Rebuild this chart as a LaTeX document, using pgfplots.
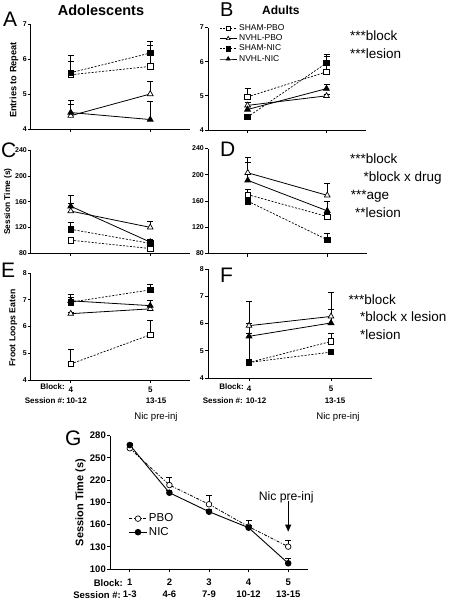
\documentclass[border=0pt]{standalone}
\usepackage{fontspec}
\setmainfont{Liberation Sans}
\usepackage{pgfplots}
\pgfplotsset{compat=1.18}
\usetikzlibrary{arrows.meta}
\newcommand\fs[1]{\fontsize{#1}{#1}\selectfont}
\pgfplotsset{
 gp/.style={
  scale only axis, axis lines=left, axis line style={-, line width=1pt},
  tick align=outside, major tick length=3pt, tick style={black, line width=1pt},
  xmin=3.5, xmax=5.5, xtick={4,5},
  yticklabel style={font=\fs{7}\bfseries, inner sep=1pt},
  xticklabel style={font=\fs{8}\bfseries, inner sep=1pt, yshift=-2.5pt},
  /pgf/number format/assume math mode=true,
  clip=false,
 },
 eb/.style={
  /pgfplots/error bars/y dir=plus, /pgfplots/error bars/y explicit,
  /pgfplots/error bars/error bar style={solid, line width=0.7pt, black},
  /pgfplots/error bars/error mark options={solid, rotate=90, mark size=3pt, line width=0.7pt, black},
 },
 shampbo/.style={eb, black, line width=0.7pt, dash pattern=on 2pt off 1.5pt, mark=square*, mark size=2.7pt, mark options={solid, fill=white, draw=black, line width=0.7pt}},
 shamnic/.style={eb, black, line width=0.7pt, dash pattern=on 2pt off 1.5pt, mark=square*, mark size=2.7pt, mark options={solid, fill=black, draw=black}},
 nvhlpbo/.style={eb, black, line width=0.8pt, solid, mark=triangle*, mark size=3.3pt, mark options={solid, fill=white, draw=black, line width=0.7pt}},
 nvhlnic/.style={eb, black, line width=0.8pt, solid, mark=triangle*, mark size=3.3pt, mark options={solid, fill=black, draw=black}},
}
\begin{document}
\begin{tikzpicture}
\useasboundingbox (0,0) rectangle (450pt,-599pt);

% ---------- Panel A ----------
\begin{axis}[gp, at={(31pt,-129pt)}, anchor=south west, width=159pt, height=105pt,
  ymin=4, ymax=7, ytick={4,5,6,7}, xticklabels={}]
\addplot[shampbo] coordinates {(4,5.55) +- (0,0.38) (5,5.79) +- (0,0.6)};
\addplot[shamnic] coordinates {(4,5.61) +- (0,0.5) (5,6.17) +- (0,0.33)};
\addplot[nvhlpbo] coordinates {(4,4.38) +- (0,0.33) (5,5.0) +- (0,0.37)};
\addplot[nvhlnic] coordinates {(4,4.47) +- (0,0.34) (5,4.27) +- (0,0.51)};
\end{axis}

% ---------- Panel B ----------
\begin{axis}[gp, at={(208pt,-130pt)}, anchor=south west, width=158pt, height=102.5pt,
  ymin=4, ymax=7, ytick={4,5,6,7}, xticklabels={},
  legend style={at={(0.07,1.05)}, anchor=north west, draw=none, fill=none,
    font=\fs{8.5}, row sep=-1.2pt, inner sep=0pt},
  legend cell align=left,
  legend image post style={mark size=2.2pt}]
\addplot[shampbo] coordinates {(4,4.97) +- (0,0.24) (5,5.7) +- (0,0.52)};
\addlegendentry{SHAM-PBO}
\addplot[nvhlpbo] coordinates {(4,4.72) +- (0,0.1) (5,5.0) +- (0,0.05)};
\addlegendentry{NVHL-PBO}
\addplot[shamnic] coordinates {(4,4.38) +- (0,0.05) (5,5.96) +- (0,0.21)};
\addlegendentry{SHAM-NIC}
\addplot[nvhlnic] coordinates {(4,4.6) +- (0,0.1) (5,5.21) +- (0,0.13)};
\addlegendentry{NVHL-NIC}
\end{axis}

% ---------- Panel C ----------
\begin{axis}[gp, at={(31pt,-253pt)}, anchor=south west, width=159pt, height=102.5pt,
  ymin=80, ymax=240, ytick={80,120,160,200,240}, xticklabels={}]
\addplot[shampbo] coordinates {(4,100) +- (0,4) (5,87) +- (0,4)};
\addplot[shamnic] coordinates {(4,117) +- (0,11.5) (5,95) +- (0,7)};
\addplot[nvhlpbo] coordinates {(4,145.4) +- (0,12) (5,120) +- (0,10)};
\addplot[nvhlnic] coordinates {(4,153) +- (0,17) (5,97) +- (0,5)};
\end{axis}

% ---------- Panel D ----------
\begin{axis}[gp, at={(208pt,-253.5pt)}, anchor=south west, width=159pt, height=105pt,
  ymin=80, ymax=240, ytick={80,120,160,200,240}, xticklabels={}]
\addplot[shampbo] coordinates {(4,169.7) +- (0,8) (5,136.3) +- (0,5)};
\addplot[shamnic] coordinates {(4,159.7) +- (0,4) (5,101) +- (0,10)};
\addplot[nvhlpbo] coordinates {(4,203) +- (0,23) (5,168.6) +- (0,18)};
\addplot[nvhlnic] coordinates {(4,191.5) +- (0,27) (5,145) +- (0,14)};
\end{axis}

% ---------- Panel E ----------
\begin{axis}[gp, at={(31pt,-380pt)}, anchor=south west, width=159pt, height=107pt,
  ymin=4, ymax=8, ytick={4,5,6,7,8}, xticklabels={4,5}]
\addplot[shampbo] coordinates {(4,4.6) +- (0,0.55) (5,5.69) +- (0,0.53)};
\addplot[shamnic] coordinates {(4,6.91) +- (0,0.19) (5,7.37) +- (0,0.22)};
\addplot[nvhlpbo] coordinates {(4,6.48) +- (0,0.05) (5,6.66) +- (0,0.1)};
\addplot[nvhlnic] coordinates {(4,6.96) +- (0,0.23) (5,6.78) +- (0,0.18)};
\end{axis}

% ---------- Panel F ----------
\begin{axis}[gp, at={(208pt,-378pt)}, anchor=south west, width=164pt, height=109pt,
  ymin=4, ymax=8, ytick={4,5,6,7,8}, xticklabels={4,5},
  xticklabel style={yshift=-1pt}]
\addplot[shampbo] coordinates {(4,4.57) +- (0,1.45) (5,5.34) +- (0,0.3)};
\addplot[shamnic] coordinates {(4,4.57) +- (0,0.02) (5,4.95) +- (0,0.05)};
\addplot[nvhlpbo] coordinates {(4,5.92) +- (0,0.89) (5,6.26) +- (0,0.88)};
\addplot[nvhlnic] coordinates {(4,5.53) +- (0,0.12) (5,6.02) +- (0,0.51)};
\end{axis}

% ---------- Panel G ----------
\begin{axis}[gp, at={(110pt,-569pt)}, anchor=south west, width=198pt, height=133.3pt,
  xmin=0.5, xmax=5.5, xtick={1,2,3,4,5},
  xticklabels={{1\\1-3},{2\\4-6},{3\\7-9},{4\\10-12},{5\\13-15}},
  xticklabel style={align=center, font=\fontsize{9.5}{11.7}\selectfont\bfseries, yshift=-3.5pt},
  ymin=100, ymax=280, ytick={100,130,160,190,220,250,280},
  yticklabel style={font=\fs{9.5}\bfseries},
  legend style={at={(0.095,0.43)}, anchor=north west, draw=none, fill=none,
    font=\fs{11.5}, row sep=0pt, inner sep=0pt},
  legend cell align=left]
\addplot[eb, black, line width=0.8pt, dash pattern=on 3pt off 1.5pt on 1pt off 1.5pt, mark=*, mark size=2.8pt, mark options={solid, fill=white, draw=black, line width=0.7pt}]
 coordinates {(1,263) +- (0,5.5) (2,213.4) +- (0,10) (3,187.4) +- (0,12.6) (4,157.2) +- (0,9) (5,130.2) +- (0,8)};
\addlegendentry{PBO}
\addplot[eb, black, line width=0.9pt, solid, mark=*, mark size=2.8pt, mark options={solid, fill=black}]
 coordinates {(1,267.4) +- (0,2.6) (2,203) +- (0,3) (3,177.4) +- (0,3) (4,155.8) +- (0,3) (5,107.7) +- (0,6.8)};
\addlegendentry{NIC}
\draw[line width=1pt, -{Triangle[length=7pt, width=6pt]}] (axis cs:5,192) -- (axis cs:5,150.5);
\node[font=\fs{12.2}, anchor=base] at (axis cs:4.95,192.5) {Nic pre-inj};
\end{axis}

% ---------- Texts ----------
\node[font=\fs{21}, anchor=base west, inner sep=0] at (3pt,-27pt) {A};
\node[font=\fs{20}, anchor=base west, inner sep=0] at (220pt,-16.5pt) {B};
\node[font=\fs{21}, anchor=base west, inner sep=0] at (1pt,-157pt) {C};
\node[font=\fs{21}, anchor=base west, inner sep=0] at (220pt,-156pt) {D};
\node[font=\fs{21}, anchor=base west, inner sep=0] at (1pt,-277pt) {E};
\node[font=\fs{21}, anchor=base west, inner sep=0] at (220pt,-282pt) {F};
\node[font=\fs{21}, anchor=base west, inner sep=0] at (65pt,-445pt) {G};

\node[font=\fs{14.5}\bfseries, anchor=base, inner sep=0] at (101pt,-16pt) {Adolescents};
\node[font=\fs{12}\bfseries, anchor=base west, inner sep=0] at (262pt,-15pt) {Adults};

\node[font=\fs{9.2}\bfseries, rotate=90, inner sep=0] at (14pt,-80pt) {Entries to Repeat};
\node[font=\fs{8.4}\bfseries, rotate=90, inner sep=0] at (8pt,-201.5pt) {Session Time (s)};
\node[font=\fs{8.7}\bfseries, rotate=90, inner sep=0] at (13.3pt,-328pt) {Froot Loops Eaten};
\node[font=\fs{11}\bfseries, rotate=90, inner sep=0] at (80.5pt,-502.5pt) {Session Time (s)};

\begin{scope}[every node/.style={font=\fs{13.5}, anchor=base west, inner sep=0}]
\node at (350pt,-40.7pt) {***block};
\node at (350pt,-58.3pt) {***lesion};
\node at (350pt,-163.3pt) {***block};
\node at (363.3pt,-181pt) {*block x drug};
\node at (350.7pt,-199pt) {***age};
\node at (355pt,-217.7pt) {**lesion};
\node at (348.3pt,-304pt) {***block};
\node at (360pt,-321.7pt) {*block x lesion};
\node at (360pt,-339pt) {*lesion};
\end{scope}

\begin{scope}[every node/.style={font=\fs{8}\bfseries, inner sep=0}]
\node[anchor=east] at (65pt,-387pt) {Block:};
\node[anchor=east] at (65pt,-401pt) {Session \#:};
\node at (76.5pt,-401pt) {10-12};
\node at (156pt,-401pt) {13-15};
\node[anchor=east] at (244pt,-387pt) {Block:};
\node[anchor=east] at (243pt,-401pt) {Session \#:};
\node at (256pt,-401pt) {10-12};
\node at (335pt,-401pt) {13-15};
\end{scope}
\node[font=\fs{9.6}, inner sep=0] at (156pt,-417.5pt) {Nic pre-inj};
\node[font=\fs{9.6}, inner sep=0] at (338pt,-417.5pt) {Nic pre-inj};

\node[font=\fs{9.5}\bfseries, anchor=east, inner sep=0] at (123pt,-583pt) {Block:};
\node[font=\fs{9.5}\bfseries, anchor=east, inner sep=0] at (121pt,-595pt) {Session \#:};
\end{tikzpicture}
\end{document}
